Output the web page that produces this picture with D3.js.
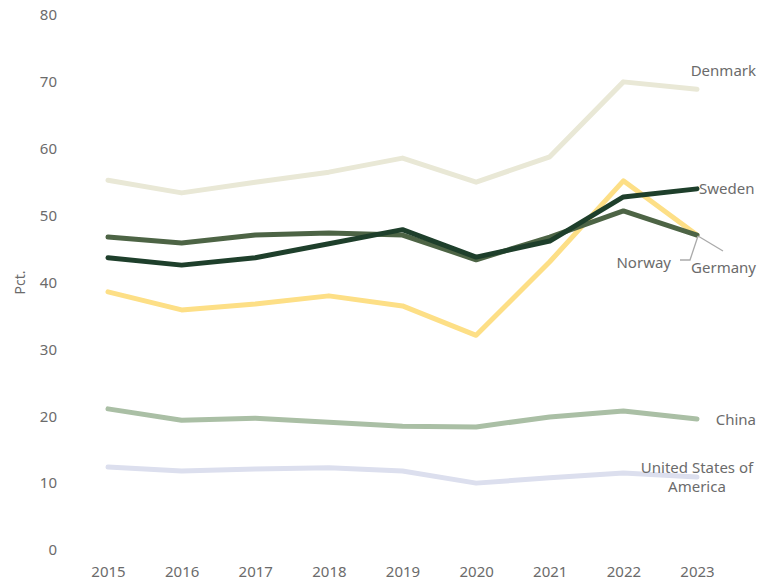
<!DOCTYPE html>
<html>
<head>
<meta charset="utf-8">
<script src="https://cdn.jsdelivr.net/npm/d3@7"></script>
<style>
  body { margin: 0; background: #fff; }
  text { font-family: "Noto Sans", "Open Sans", sans-serif; fill: #6b6b6b; }
</style>
</head>
<body>
<svg id="chart" width="759" height="580"></svg>
<script>
// data
var years = [2015, 2016, 2017, 2018, 2019, 2020, 2021, 2022, 2023]
var yTicks = [0, 10, 20, 30, 40, 50, 60, 70, 80]
var denmark = [55.3, 53.4, 55.0, 56.5, 58.6, 55.0, 58.8, 70.0, 68.9]
var china = [21.1, 19.4, 19.7, 19.1, 18.5, 18.4, 19.9, 20.8, 19.6]
var usa = [12.4, 11.8, 12.1, 12.3, 11.8, 10.0, 10.8, 11.5, 10.9]
var norway = [38.6, 35.9, 36.8, 38.0, 36.5, 32.1, 43.1, 55.2, 47.1]
var germany = [46.8, 45.9, 47.1, 47.4, 47.1, 43.4, 46.8, 50.7, 47.1]
var sweden = [43.7, 42.6, 43.7, 45.8, 47.9, 43.8, 46.2, 52.8, 54.0]

var series = [
  { name: "Denmark", values: denmark, color: "#e9e8d6" },
  { name: "China", values: china, color: "#aabfa5" },
  { name: "United States of America", values: usa, color: "#dcdfee" },
  { name: "Norway", values: norway, color: "#fddf86" },
  { name: "Germany", values: germany, color: "#4d6445" },
  { name: "Sweden", values: sweden, color: "#1e3f2b" }
]

var dd = { width: 759, height: 580, margin: { top: 15, bottom: 30, left: 108, right: 62 } }

var svg = d3.select("#chart")

var x = d3.scalePoint().domain(years).range([dd.margin.left, dd.width - dd.margin.right])
var y = d3.scaleLinear().domain([0, 80]).range([dd.height - dd.margin.bottom, dd.margin.top])

var fs = "15px"

// y axis labels (no line)
var yAxis = svg.append("g")
  .attr("transform", "translate(57,0)")
  .call(d3.axisLeft(y).tickValues(yTicks).tickSize(0).tickPadding(0))
yAxis.select(".domain").remove()
yAxis.selectAll("text").style("font-size", fs).attr("fill", "#6b6b6b")
  .attr("font-family", null)

var xAxis = svg.append("g")
  .attr("transform", "translate(0," + (dd.height - 14) + ")")
  .call(d3.axisBottom(x).tickFormat(d3.format("d")).tickSize(0).tickPadding(0))
xAxis.select(".domain").remove()
xAxis.selectAll("text").style("font-size", fs).attr("fill", "#6b6b6b")
  .attr("font-family", null)

svg.append("text")
  .attr("transform", "translate(25," + y(40) + ") rotate(-90)")
  .attr("text-anchor", "middle")
  .style("font-size", "14px")
  .text("Pct.")

var line = d3.line()
  .x(function(d, i) { return x(years[i]) })
  .y(function(d) { return y(d) })

svg.selectAll(".series")
  .data(series)
  .enter().append("path")
  .attr("class", "series")
  .attr("d", function(d) { return line(d.values) })
  .attr("fill", "none")
  .attr("stroke", function(d) { return d.color })
  .attr("stroke-width", 5)
  .attr("stroke-linejoin", "round")
  .attr("stroke-linecap", "round")

var last = years[years.length - 1]
var lx = x(last)

// leader lines for Norway / Germany
var yEnd = y(germany[germany.length - 1])
svg.append("path")
  .attr("d", "M" + (lx + 1) + "," + (yEnd + 1) + "L" + (lx + 26) + "," + (yEnd + 16))
  .attr("stroke", "#aaa").attr("stroke-width", 1.3).attr("fill", "none")
svg.append("path")
  .attr("d", "M" + (lx - 17) + "," + (yEnd + 25) + "L" + (lx - 7) + "," + (yEnd + 25) + "L" + (lx + 1) + "," + (yEnd + 1))
  .attr("stroke", "#aaa").attr("stroke-width", 1.3).attr("fill", "none")

svg.append("text").attr("x", 756).attr("y", y(denmark[8]) - 13)
  .attr("text-anchor", "end").style("font-size", fs).text("Denmark")
svg.append("text").attr("x", lx + 2).attr("y", y(sweden[8]) + 5)
  .style("font-size", fs).text("Sweden")
svg.append("text").attr("x", lx - 26).attr("y", yEnd + 33)
  .attr("text-anchor", "end").style("font-size", fs).text("Norway")
svg.append("text").attr("x", 756).attr("y", yEnd + 38)
  .attr("text-anchor", "end").style("font-size", fs).text("Germany")
svg.append("text").attr("x", 756).attr("y", y(china[8]) + 6)
  .attr("text-anchor", "end").style("font-size", fs).text("China")
var us = svg.append("text").attr("text-anchor", "middle").style("font-size", fs)
us.append("tspan").attr("x", lx).attr("y", y(usa[8]) - 4).text("United States of")
us.append("tspan").attr("x", lx).attr("y", y(usa[8]) + 15).text("America")
</script>
</body>
</html>
